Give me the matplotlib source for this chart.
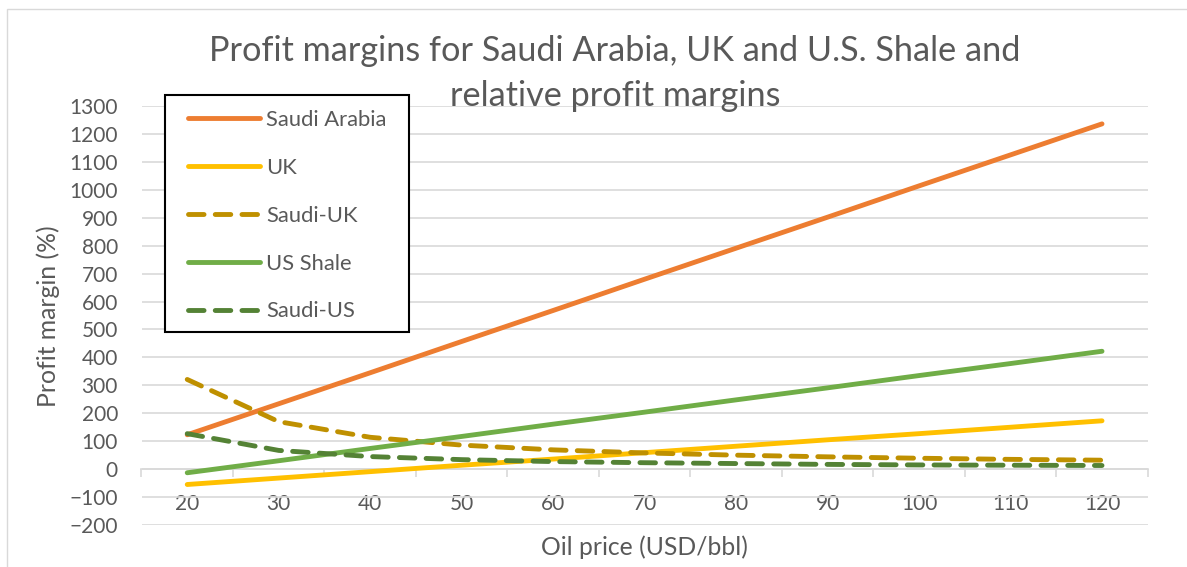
import matplotlib
matplotlib.use('Agg')
import matplotlib.pyplot as plt
from matplotlib.patches import Rectangle

# precio del petroleo (USD/bbl) y margenes de beneficio (%)
precios = [20, 30, 40, 50, 60, 70, 80, 90, 100, 110, 120]
saudi_arabia = [123, 234, 345, 457, 568, 680, 791, 902, 1014, 1125, 1236]
uk = [-55, -32, -9, 14, 36, 59, 82, 105, 127, 150, 173]
saudi_uk = [321, 170, 114, 86, 69, 58, 50, 44, 39, 35, 32]
us_shale = [-13, 30, 74, 117, 161, 204, 248, 291, 335, 378, 422]
saudi_us = [127, 67, 45, 34, 27, 23, 20, 17, 15, 14, 13]

series = [
    ("Saudi Arabia", saudi_arabia, '#ED7D31', '-'),
    ("UK", uk, '#FFC000', '-'),
    ("Saudi-UK", saudi_uk, '#BF9000', '--'),
    ("US Shale", us_shale, '#70AD47', '-'),
    ("Saudi-US", saudi_us, '#548235', '--'),
]

W, H = 1187, 567
gris = '#595959'
plt.rcParams['font.family'] = ['Lato', 'DejaVu Sans']

fig = plt.figure(figsize=(W / 100, H / 100), dpi=100)
ax = fig.add_axes([141.5 / W, 1 - 525 / H, 1006.25 / W, 419 / H])

# borde del area del grafico
fig.patches.append(Rectangle((7 / W, -0.1), 1.2, 1 - 9 / H + 0.1, transform=fig.transFigure,
                             fill=False, edgecolor='#d9d9d9', linewidth=1))

for i, (nombre, valores, color, estilo) in enumerate(series):
    linea, = ax.plot(precios, valores, color=color, linewidth=3.5, label=nombre,
                     solid_capstyle='round', dash_capstyle='round', zorder=3 + i * 0.1)
    if estilo == '--':
        linea.set_dashes((3.2, 2.3))

ax.set_xlim(15, 125)
ax.set_ylim(-200, 1300)
ax.set_yticks(range(-200, 1301, 100))
ax.grid(axis='y', color='#d9d9d9', linewidth=1.2)
ax.set_axisbelow(True)
for lado in ['top', 'right', 'left']:
    ax.spines[lado].set_visible(False)
ax.spines['bottom'].set_position(('data', 0))
ax.spines['bottom'].set_color('#d9d9d9')
ax.spines['bottom'].set_linewidth(1.2)
ax.spines['bottom'].set_zorder(2)

ax.set_xticks(range(15, 126, 10))
ax.set_xticklabels([])
ax.set_xticks(precios, minor=True)
ax.set_xticklabels([str(p) for p in precios], minor=True)
ax.tick_params(axis='x', which='major', length=5.5, width=1.2, color='#d9d9d9')
ax.tick_params(axis='x', which='minor', length=0, pad=18, labelsize=15, labelcolor=gris)
ax.tick_params(axis='y', length=0, pad=17, labelsize=15, labelcolor=gris)

# titulo y etiquetas de ejes
fig.text(615 / W, 1 - 61 / H, "Profit margins for Saudi Arabia, UK and U.S. Shale and",
         ha='center', va='baseline', fontsize=24.7, color=gris)
fig.text(615 / W, 1 - 106 / H, "relative profit margins",
         ha='center', va='baseline', fontsize=24.7, color=gris)
fig.text(644.6 / W, 1 - 555 / H, "Oil price (USD/bbl)", ha='center', va='baseline',
         fontsize=17.8, color=gris)
fig.text(48 / W, 1 - 316 / H, "Profit margin (%)", ha='center', va='center',
         rotation=90, fontsize=17.8, color=gris)

# leyenda con marco dibujado a mano
marco = Rectangle((165 / W, 1 - 332 / H), 244 / W, 237 / H, transform=fig.transFigure,
                  facecolor='white', edgecolor='black', linewidth=1.5, zorder=6)
ax.add_patch(marco)
marco.set_clip_on(False)
leg = ax.legend(loc='upper left', bbox_to_anchor=(188 / W, 1 - 110 / H),
                bbox_transform=fig.transFigure, frameon=False, borderpad=0,
                borderaxespad=0, fontsize=15.8, handlelength=3.3, handletextpad=0.27,
                labelspacing=1.27)
leg.set_zorder(7)
for texto in leg.get_texts():
    texto.set_color(gris)

fig.savefig('out.png', dpi=100)
